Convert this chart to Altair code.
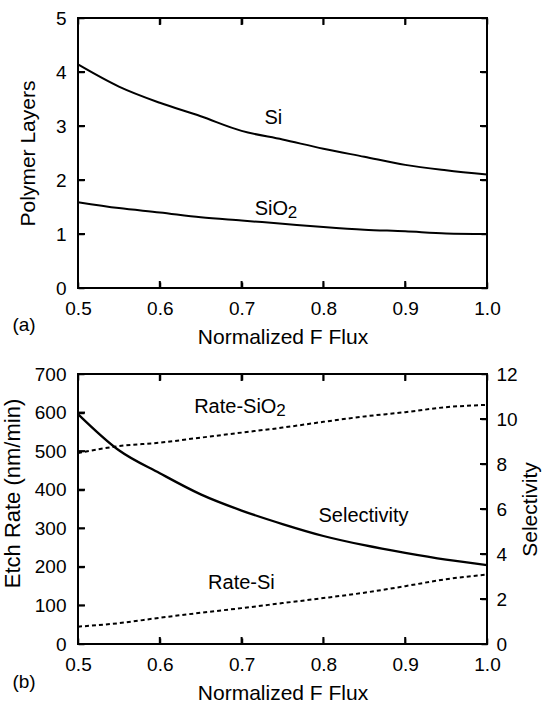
import altair as alt
import pandas as pd

# ---------------- data ----------------
flux = [0.5, 0.55, 0.6, 0.65, 0.7, 0.75, 0.8, 0.85, 0.9, 0.95, 1.0]

# panel (a)
si_layers = [4.14, 3.73, 3.43, 3.18, 2.91, 2.75, 2.58, 2.43, 2.28, 2.18, 2.10]
sio2_layers = [1.59, 1.48, 1.40, 1.31, 1.25, 1.19, 1.13, 1.08, 1.05, 1.01, 1.00]

# panel (b)
rate_sio2 = [495, 513, 522, 535, 548, 561, 576, 590, 601, 614, 620]
rate_si = [45, 54, 68, 81, 93, 106, 119, 133, 150, 168, 180]
selectivity = [10.22, 8.61, 7.59, 6.65, 5.93, 5.33, 4.80, 4.39, 4.05, 3.75, 3.51]

x_ticks = [0.5, 0.6, 0.7, 0.8, 0.9, 1.0]
ya_ticks = [0, 1, 2, 3, 4, 5]
yb_left_ticks = [0, 100, 200, 300, 400, 500, 600, 700]
yb_right_ticks = [0, 2, 4, 6, 8, 10, 12]

labels_a = ["Si", "SiO"]
labels_a_x = [0.728, 0.716]
labels_a_y = [3.15, 1.46]
sub_a_x = [0.716]
sub_a_y = [1.46]

labels_b = ["Rate-SiO", "Selectivity", "Rate-Si"]
labels_b_x = [0.642, 0.794, 0.659]
labels_b_y = [614, 332, 158]
sub_b_x = [0.642]
sub_b_y = [614]

FONT = "Liberation Sans"
W, H = 409, 270
TS = 6   # axis offset used to keep labels close to the frame
RT = 7   # inward tick length

df_a = pd.DataFrame({
    "flux": flux * 2,
    "value": si_layers + sio2_layers,
    "series": ["Si"] * len(flux) + ["SiO2"] * len(flux),
})
df_rates = pd.DataFrame({
    "flux": flux * 2,
    "rate": rate_sio2 + rate_si,
    "series": ["Rate-SiO2"] * len(flux) + ["Rate-Si"] * len(flux),
})
df_sel = pd.DataFrame({"flux": flux, "sel": selectivity})
df_lab_a = pd.DataFrame({"x": labels_a_x, "y": labels_a_y, "t": labels_a})
df_sub_a = pd.DataFrame({"x": sub_a_x, "y": sub_a_y, "t": ["2"]})
df_lab_b = pd.DataFrame({"x": labels_b_x, "y": labels_b_y, "t": labels_b})
df_sub_b = pd.DataFrame({"x": sub_b_x, "y": sub_b_y, "t": ["2"]})


def xs():
    return alt.Scale(domain=[0.5, 1.0], nice=False, zero=False)


def x_bottom():
    return alt.Axis(values=x_ticks, format=".1f", tickSize=TS, offset=-TS,
                    domain=False, grid=False, labelPadding=11, titlePadding=8,
                    labelFlush=False)


def x_top():
    return alt.Axis(orient="top", values=x_ticks, labels=False, tickSize=TS,
                    offset=-TS, domain=False, grid=False, title=None)


def inner_ticks(xvals, yvals, yscale):
    """Inward tick marks on the frame, positioned through the scales."""
    dx = pd.DataFrame({"v": xvals[1:-1]})
    dy = pd.DataFrame({"v": yvals[1:-1]})
    rule = dict(color="black", strokeWidth=2)
    bottom = alt.Chart(dx).mark_rule(**rule).encode(
        x=alt.X("v:Q", scale=xs(), axis=None), y=alt.value(H), y2=alt.value(H - RT))
    top = alt.Chart(dx).mark_rule(**rule).encode(
        x=alt.X("v:Q", scale=xs(), axis=None), y=alt.value(0), y2=alt.value(RT))
    left = alt.Chart(dy).mark_rule(**rule).encode(
        y=alt.Y("v:Q", scale=yscale, axis=None), x=alt.value(0), x2=alt.value(RT))
    right = alt.Chart(dy).mark_rule(**rule).encode(
        y=alt.Y("v:Q", scale=yscale, axis=None), x=alt.value(W), x2=alt.value(W - RT))
    return [bottom, top, left, right]


# ---------------- panel (a) ----------------
ysa = alt.Scale(domain=[0, 5], nice=False)

lines_a = alt.Chart(df_a).mark_line(color="black", strokeWidth=2, interpolate="monotone").encode(
    x=alt.X("flux:Q", scale=xs(), axis=x_bottom(), title="Normalized F Flux"),
    y=alt.Y("value:Q", scale=ysa, title="Polymer Layers",
            axis=alt.Axis(values=ya_ticks, format="d", tickSize=TS, offset=-TS, domain=False,
                          grid=False, labelPadding=12, titlePadding=17)),
    detail="series:N",
)
text_a = alt.Chart(df_lab_a).mark_text(align="left", baseline="middle", font=FONT,
                                       fontSize=20, color="black").encode(
    x=alt.X("x:Q", scale=xs(), axis=x_top()),
    y=alt.Y("y:Q", scale=ysa,
            axis=alt.Axis(orient="right", values=ya_ticks, labels=False, tickSize=TS,
                          offset=-TS, domain=False, grid=False, title=None)),
    text="t:N",
)
sub_a = alt.Chart(df_sub_a).mark_text(align="left", baseline="middle", font=FONT,
                                      fontSize=17, color="black", dx=33, dy=4).encode(
    x=alt.X("x:Q", scale=xs(), axis=None),
    y=alt.Y("y:Q", scale=ysa, axis=None),
    text="t:N",
)
tag_a = alt.Chart(pd.DataFrame({"t": ["(a)"]})).mark_text(
    align="center", baseline="middle", font=FONT, fontSize=19, color="black").encode(
    x=alt.value(-54), y=alt.value(307), text="t:N")

panel_a = alt.layer(lines_a, text_a, sub_a, tag_a,
                    *inner_ticks(x_ticks, ya_ticks, ysa)).resolve_scale(
    x="independent", y="independent").properties(width=W, height=H)

# ---------------- panel (b) ----------------
ysb = alt.Scale(domain=[0, 700], nice=False)
ysel = alt.Scale(domain=[0, 12], nice=False)

rates = alt.Chart(df_rates).mark_line(color="black", strokeWidth=2, strokeDash=[4, 3],
                                      interpolate="monotone").encode(
    x=alt.X("flux:Q", scale=xs(), axis=x_bottom(), title="Normalized F Flux"),
    y=alt.Y("rate:Q", scale=ysb, title="Etch Rate (nm/min)",
            axis=alt.Axis(values=yb_left_ticks, format="d", tickSize=TS, offset=-TS,
                          domain=False, grid=False, labelPadding=12, titlePadding=10,
                          titleFontSize=22, titleY=119)),
    detail="series:N",
)
sel = alt.Chart(df_sel).mark_line(color="black", strokeWidth=2.3, interpolate="monotone").encode(
    x=alt.X("flux:Q", scale=xs(), axis=None),
    y=alt.Y("sel:Q", scale=ysel, title="Selectivity",
            axis=alt.Axis(orient="right", values=yb_right_ticks, format="d", tickSize=TS,
                          offset=-TS, domain=False, grid=False, labelPadding=9,
                          titlePadding=2, titleAngle=270, titleBaseline="top")),
)
text_b = alt.Chart(df_lab_b).mark_text(align="left", baseline="middle", font=FONT,
                                       fontSize=20, color="black").encode(
    x=alt.X("x:Q", scale=xs(), axis=x_top()),
    y=alt.Y("y:Q", scale=ysb, axis=None),
    text="t:N",
)
sub_b = alt.Chart(df_sub_b).mark_text(align="left", baseline="middle", font=FONT,
                                      fontSize=17, color="black", dx=82, dy=4).encode(
    x=alt.X("x:Q", scale=xs(), axis=None),
    y=alt.Y("y:Q", scale=ysb, axis=None),
    text="t:N",
)
tag_b = alt.Chart(pd.DataFrame({"t": ["(b)"]})).mark_text(
    align="center", baseline="middle", font=FONT, fontSize=19, color="black").encode(
    x=alt.value(-54), y=alt.value(308), text="t:N")

ticks_b = inner_ticks(x_ticks, yb_left_ticks, ysb)
ticks_b_right = alt.Chart(pd.DataFrame({"v": yb_right_ticks[1:-1]})).mark_rule(
    color="black", strokeWidth=2).encode(
    y=alt.Y("v:Q", scale=ysel, axis=None), x=alt.value(W), x2=alt.value(W - RT))

panel_b = alt.layer(rates, sel, text_b, sub_b, tag_b,
                    ticks_b[0], ticks_b[1], ticks_b[2], ticks_b_right).resolve_scale(
    x="independent", y="independent").properties(width=W, height=H)

chart = alt.vconcat(panel_a, panel_b, spacing=16).properties(
    padding={"left": 0, "top": 8, "right": 0, "bottom": 0},
    background="white",
).configure_view(
    stroke="black", strokeWidth=2
).configure_axis(
    labelFont=FONT, labelFontSize=19, labelColor="black",
    titleFont=FONT, titleFontSize=21, titleFontWeight="normal", titleColor="black",
    tickColor="black", tickWidth=1.5,
)

chart.save("out.html", embed_options={"renderer": "svg", "actions": False})
